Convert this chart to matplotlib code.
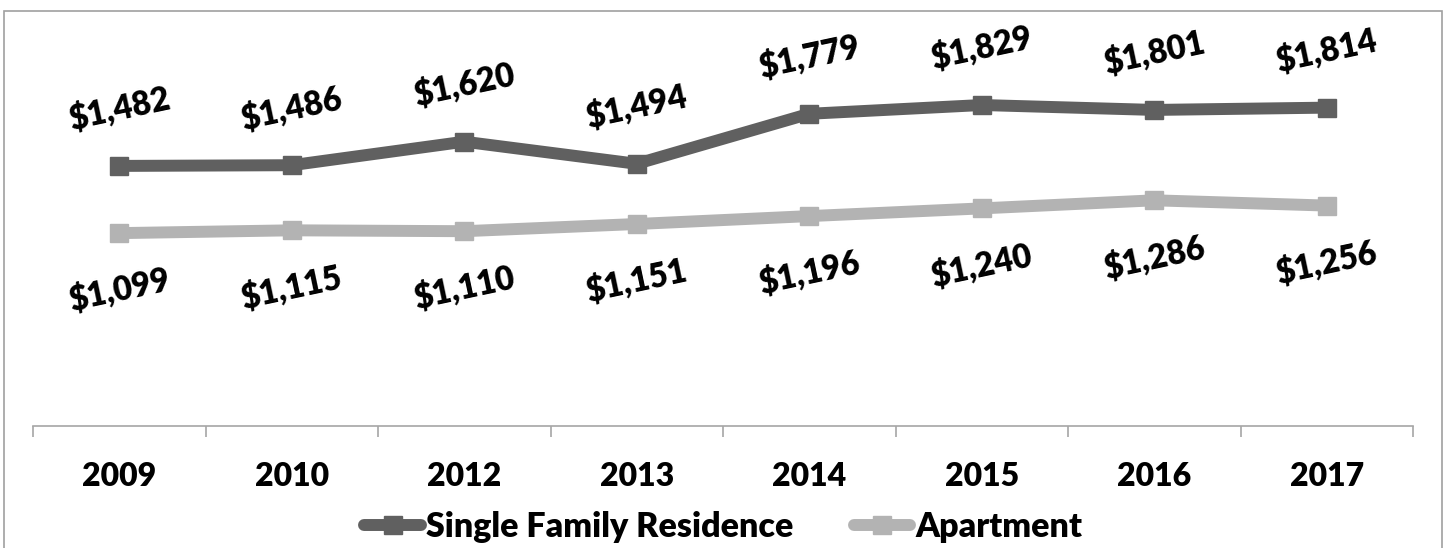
import matplotlib
matplotlib.use("Agg")
import matplotlib.pyplot as plt
from matplotlib.patches import Rectangle
from matplotlib.lines import Line2D

years = ["2009", "2010", "2012", "2013", "2014", "2015", "2016", "2017"]
single_family = [1482, 1486, 1620, 1494, 1779, 1829, 1801, 1814]
apartment = [1099, 1115, 1110, 1151, 1196, 1240, 1286, 1256]

dark = "#606060"
light = "#b3b3b3"
font = "Lato"
weight = 800

fig = plt.figure(figsize=(14.47, 5.48), dpi=100)
ax = fig.add_axes([33 / 1447, 1 - 426 / 548, 1380 / 1447, 351 / 548])

x = list(range(len(years)))
ax.plot(x, single_family, color=dark, lw=8.6, marker="s", ms=12.5,
        solid_capstyle="butt", zorder=3)
ax.plot(x, apartment, color=light, lw=8.6, marker="s", ms=12.5,
        solid_capstyle="butt", zorder=3)

for xi, v in zip(x, single_family):
    ax.annotate(f"${v:,}", (xi, v), xytext=(0, 41), textcoords="offset points",
                ha="center", va="center", rotation=12, fontsize=23.5,
                fontweight=weight, family=font)
for xi, v in zip(x, apartment):
    ax.annotate(f"${v:,}", (xi, v), xytext=(0, -41), textcoords="offset points",
                ha="center", va="center", rotation=12, fontsize=23.5,
                fontweight=weight, family=font)

ax.set_xlim(-0.5, len(years) - 0.5)
ax.set_ylim(0, 2000)
ax.set_yticks([])
for s in ["top", "right", "left"]:
    ax.spines[s].set_visible(False)
ax.spines["bottom"].set_color("#a6a6a6")
ax.spines["bottom"].set_linewidth(1.2)

ax.set_xticks(x)
ax.set_xticklabels(years, fontsize=23, fontweight=weight, family=font)
ax.tick_params(axis="x", which="major", length=0, pad=26)
ax.set_xticks([i - 0.5 for i in range(len(years) + 1)], minor=True)
ax.tick_params(axis="x", which="minor", length=8, width=1.2, color="#a6a6a6",
               direction="out")

handles = [
    Line2D([], [], color=dark, lw=8.6, marker="s", ms=12.5, solid_capstyle="round"),
    Line2D([], [], color=light, lw=8.6, marker="s", ms=12.5, solid_capstyle="round"),
]
fig.legend(handles, ["Single Family Residence", "Apartment"], loc="center",
           bbox_to_anchor=(0.5, 1 - 527 / 548), ncol=2, frameon=False,
           handlelength=1.65, handletextpad=0.15, columnspacing=1.8,
           prop={"family": font, "weight": weight, "size": 24.5})

fig.patches.append(Rectangle((4 / 1447, -0.05), 1438 / 1447, 1.05 - 11 / 548,
                             transform=fig.transFigure, fill=False,
                             edgecolor="#a0a0a0", lw=1.2))

fig.savefig("out.png", dpi=100)
